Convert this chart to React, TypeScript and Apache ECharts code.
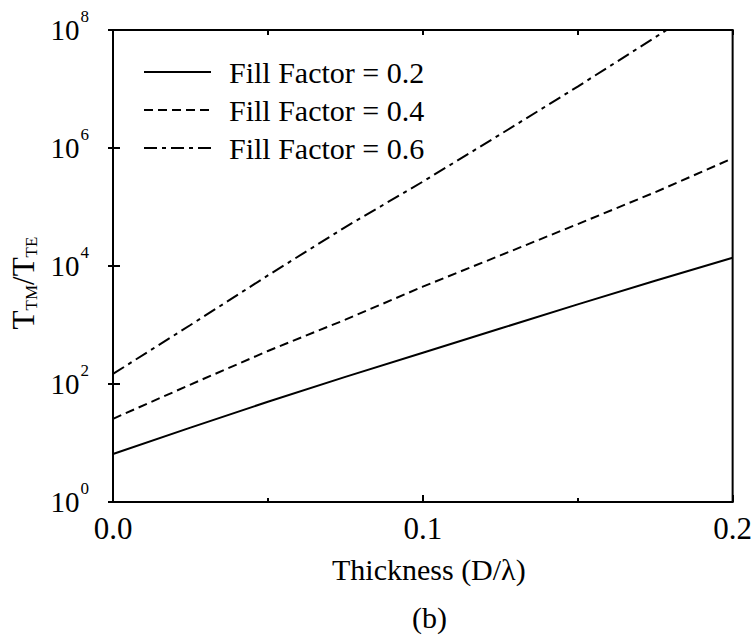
import React, { useEffect, useRef } from "react";
import * as echarts from "echarts";

// Thickness (D/λ) sample positions
const thickness = [0, 0.025, 0.05, 0.075, 0.1, 0.125, 0.15, 0.175, 0.2];
const thicknessDashDot = [0, 0.025, 0.05, 0.075, 0.1, 0.125, 0.15, 0.1787];

// T_TM / T_TE ratios
const fill02 = [6.5, 18.2, 50, 132, 339, 871, 2240, 5620, 13800];
const fill04 = [25.7, 97.7, 363, 1230, 4470, 15100, 51300, 178000, 668000];
const fill06 = [148, 1000, 6920, 45700, 269000, 1700000, 11000000, 100000000];

const seriesNames = ["Fill Factor = 0.2", "Fill Factor = 0.4", "Fill Factor = 0.6"];
const xTickLabels = ["0.0", "0.1", "0.2"];

const SERIF = "Liberation Serif";

function pairs(xs: number[], ys: number[]) {
  return xs.map((x, i) => [x, ys[i]]);
}

export default function App() {
  const ref = useRef<HTMLDivElement>(null);
  useEffect(() => {
    if (!ref.current) return;
    const chart = echarts.init(ref.current, undefined, { renderer: "svg" });
    const lineBase = { type: "line", symbol: "none", showSymbol: false, smooth: false, clip: true };
    chart.setOption({
      animation: false,
      backgroundColor: "#fff",
      textStyle: { fontFamily: SERIF, fontWeight: "normal", fontStyle: "normal" },
      grid: {
        left: 113,
        right: 21,
        top: 30,
        bottom: 139,
        show: true,
        borderColor: "#000",
        borderWidth: 2,
      },
      title: {
        text: "(b)",
        left: 407,
        top: 597,
        textStyle: { fontFamily: SERIF, fontSize: 30, fontWeight: "normal", color: "#000" },
      },
      legend: {
        orient: "vertical",
        left: 143,
        top: 57,
        padding: 0,
        itemWidth: 67,
        itemHeight: 14,
        itemGap: 8,
        data: seriesNames,
        itemStyle: { color: "transparent", borderColor: "transparent", borderWidth: 0, opacity: 0 },
        textStyle: {
          fontFamily: "Times New Roman",
          fontWeight: "normal",
          fontStyle: "normal",
          fontSize: 30,
          color: "#000",
          lineHeight: 30,
          padding: [0, 0, 0, 13],
        },
      },
      xAxis: [
        {
          type: "value",
          min: 0,
          max: 0.2,
          interval: 0.1,
          position: "bottom",
          name: "Thickness (D/λ)",
          nameLocation: "middle",
          nameGap: 52,
          nameTextStyle: {
            fontFamily: "serif",
            fontWeight: "normal",
            fontSize: 30,
            color: "#000",
            lineHeight: 30,
            padding: [0, 0, 0, 12],
          },
          axisLine: { show: false },
          axisTick: { show: true, inside: true, length: 7, lineStyle: { color: "#000", width: 2 } },
          minorTick: { show: true, splitNumber: 2, length: 4, lineStyle: { color: "#000", width: 2 } },
          splitLine: { show: false },
          axisLabel: {
            margin: 11,
            fontFamily: SERIF,
            fontWeight: "normal",
            fontStyle: "normal",
            fontSize: 31,
            color: "#000",
            formatter: (v: number) => xTickLabels[Math.round(v * 10)] ?? "",
          },
        },
        {
          type: "value",
          min: 0,
          max: 0.2,
          interval: 0.05,
          position: "top",
          axisLine: { show: false },
          axisTick: { show: true, inside: true, length: 5, lineStyle: { color: "#000", width: 2 } },
          splitLine: { show: false },
          axisLabel: { show: false },
        },
      ],
      yAxis: [
        {
          type: "log",
          logBase: 10,
          min: 1,
          max: 100000000,
          interval: 2,
          position: "left",
          name: "{t|T}{s|TM}{t|/T}{s|TE}",
          nameLocation: "middle",
          nameRotate: 90,
          nameGap: 70,
          nameTextStyle: {
            padding: [0, 34, 0, 0],
            rich: {
              t: { fontFamily: SERIF, fontSize: 31, color: "#000", lineHeight: 32 },
              s: { fontFamily: SERIF, fontSize: 17, color: "#000", verticalAlign: "bottom", lineHeight: 14 },
            },
          },
          axisLine: { show: false },
          axisTick: { show: true, inside: true, length: 7, lineStyle: { color: "#000", width: 2 } },
          splitLine: { show: false },
          axisLabel: {
            margin: 24,
            formatter: (v: number) => `{b|10}{s|${Math.round(Math.log10(v))}}`,
            rich: {
              b: { fontFamily: SERIF, fontSize: 29, color: "#000", lineHeight: 30 },
              s: { fontFamily: SERIF, fontSize: 17, color: "#000", lineHeight: 17, padding: [0, 0, 27, 1] },
            },
          },
        },
        {
          type: "log",
          logBase: 10,
          min: 1,
          max: 100000000,
          interval: 2,
          position: "right",
          axisLine: { show: false },
          axisTick: { show: true, inside: true, length: 5, lineStyle: { color: "#000", width: 2 } },
          splitLine: { show: false },
          axisLabel: { show: false },
        },
      ],
      series: [
        {
          ...lineBase,
          name: seriesNames[0],
          data: pairs(thickness, fill02),
          lineStyle: { color: "#000", width: 2, type: "solid" },
          itemStyle: { color: "#000" },
        },
        {
          ...lineBase,
          name: seriesNames[1],
          data: pairs(thickness, fill04),
          lineStyle: { color: "#000", width: 2, type: [9, 5] },
          itemStyle: { color: "#000" },
        },
        {
          ...lineBase,
          name: seriesNames[2],
          data: pairs(thicknessDashDot, fill06),
          lineStyle: { color: "#000", width: 2, type: [13, 5, 4, 5] },
          itemStyle: { color: "#000" },
        },
      ],
    });
    return () => chart.dispose();
  }, []);
  return <div ref={ref} style={{ position: "fixed", left: 0, top: 0, width: 755, height: 641 }} />;
}
